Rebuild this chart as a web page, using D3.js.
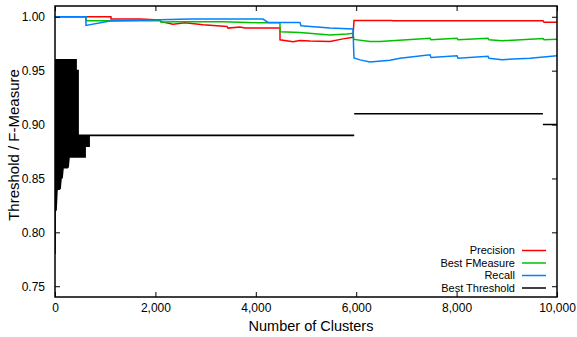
<!DOCTYPE html>
<html><head><meta charset="utf-8">
<script src="https://cdn.jsdelivr.net/npm/d3@7"></script>
<style>
html,body{margin:0;padding:0;background:#fff;}
svg{display:block;font-family:"Liberation Sans",Arial,Helvetica,sans-serif;}
</style></head>
<body><svg id="c" width="577" height="337"></svg>
<script>
// ---- data ----
const xTicks = [0, 2000, 4000, 6000, 8000, 10000];
const yTicks = [0.75, 0.80, 0.85, 0.90, 0.95, 1.00];
const seriesNames = ["Precision", "Best FMeasure", "Recall", "Best Threshold"];

const precClusters = [0,1115,1115,1693,2092,2112,2350,2590,2948,3426,3446,3685,3785,4482,4482,4741,4880,5080,5478,5737,5936,5956,6713,6733,9721,9741,10000];
const precValues   = [1.000,1.000,0.998,0.998,0.997,0.9955,0.993,0.9945,0.9926,0.991,0.9895,0.9905,0.9895,0.9895,0.9787,0.9769,0.978,0.9775,0.977,0.9795,0.981,0.9966,0.9966,0.9962,0.9962,0.995,0.995];

const fClusters = [0,617,617,1096,2092,2112,2350,3347,4024,4482,4482,4880,5478,5817,5936,5956,6275,6474,7470,7490,8008,8028,8626,8646,8904,9721,9741,10000];
const fValues   = [1.000,1.000,0.9963,0.9963,0.9965,0.995,0.9955,0.9955,0.9945,0.9945,0.986,0.9855,0.983,0.984,0.9846,0.979,0.977,0.9771,0.980,0.9787,0.980,0.9787,0.980,0.9787,0.9778,0.9798,0.9787,0.9792];

const recClusters = [0,617,617,1096,2092,2689,4143,4243,4880,4900,5478,5936,5956,6076,6275,6673,6872,7470,7490,8008,8028,8626,8646,8904,9462,10000];
const recValues   = [1.000,1.000,0.992,0.996,0.9972,0.9979,0.9979,0.9947,0.9947,0.9917,0.9895,0.9886,0.9618,0.960,0.958,0.9596,0.9615,0.9648,0.9623,0.9639,0.9615,0.9633,0.9615,0.9602,0.9615,0.9639];

// null marks a break in the threshold line
const thrClusters = [0,0,20,20,40,40,60,60,80,80,100,100,120,120,140,140,160,160,180,180,200,200,220,220,240,240,260,260,280,280,300,300,320,320,340,340,360,360,380,380,400,400,420,420,440,440,460,460,480,480,500,500,520,520,540,540,560,560,580,580,600,600,620,620,640,640,660,660,680,680,5960,null,5960,9720,null,9720,10000];
const thrValues   = [0.78,0.96,0.96,0.82,0.84,0.96,0.96,0.84,0.84,0.96,0.96,0.84,0.85,0.96,0.96,0.85,0.86,0.96,0.96,0.86,0.86,0.96,0.96,0.86,0.86,0.96,0.96,0.86,0.87,0.96,0.96,0.87,0.87,0.96,0.96,0.87,0.87,0.96,0.96,0.87,0.87,0.96,0.96,0.87,0.87,0.95,0.95,0.87,0.87,0.89,0.89,0.87,0.87,0.89,0.89,0.87,0.87,0.89,0.89,0.87,0.87,0.89,0.89,0.88,0.88,0.89,0.89,0.88,0.88,0.89,0.89,null,0.91,0.91,null,0.90,0.90];

const colors = ["#ff0000", "#00c000", "#0080ff", "#000000"];

// ---- chart ----
const L = 55, R = 557, T = 6, B = 297;
const svg = d3.select("#c");
const x = d3.scaleLinear().domain([0, 10000]).range([L, R]);
const y = d3.scaleLinear().domain([0.74, 1.01]).range([B, T]);

const zip = (xs, ys) => xs.map((c, i) => [c, ys[i]]);
const series = [zip(precClusters, precValues), zip(fClusters, fValues), zip(recClusters, recValues), zip(thrClusters, thrValues)];

const line = d3.line()
  .defined(d => d[0] !== null && d[1] !== null)
  .x(d => x(d[0])).y(d => y(d[1]));

svg.append("clipPath").attr("id", "pc").append("rect")
  .attr("x", L).attr("y", T).attr("width", R - L).attr("height", B - T);

const plot = svg.append("g").attr("clip-path", "url(#pc)");
series.forEach((s, i) => {
  plot.append("path").datum(s).attr("d", line)
    .attr("fill", "none").attr("stroke", colors[i])
    .attr("stroke-width", i === 3 ? 1.6 : 1.5)
    .attr("stroke-linejoin", "miter");
});

// axes
const fs = 12;
const ax = svg.append("g").attr("transform", `translate(0,${B})`)
  .call(d3.axisBottom(x).tickValues(xTicks).tickFormat(d3.format(",")).tickSizeInner(-5).tickSizeOuter(0).tickPadding(6));
const axT = svg.append("g").attr("transform", `translate(0,${T})`)
  .call(d3.axisTop(x).tickValues(xTicks).tickFormat("").tickSizeInner(-5).tickSizeOuter(0));
const ay = svg.append("g").attr("transform", `translate(${L},0)`)
  .call(d3.axisLeft(y).tickValues(yTicks).tickFormat(d3.format(".2f")).tickSizeInner(-5).tickSizeOuter(0).tickPadding(10));
const ayR = svg.append("g").attr("transform", `translate(${R},0)`)
  .call(d3.axisRight(y).tickValues(yTicks).tickFormat("").tickSizeInner(-5).tickSizeOuter(0));
[ax, axT, ay, ayR].forEach(g => {
  g.select(".domain").remove();
  g.selectAll(".tick line").attr("stroke", "#000").attr("stroke-width", 1);
  g.selectAll("text").attr("font-size", fs).attr("fill", "#000").attr("font-family", "Liberation Sans, Arial, sans-serif");
});

svg.append("rect").attr("x", L).attr("y", T).attr("width", R - L).attr("height", B - T)
  .attr("fill", "none").attr("stroke", "#000").attr("stroke-width", 1.5);

svg.append("text").attr("x", 311).attr("y", 331).attr("text-anchor", "middle")
  .attr("font-size", 14.5).text("Number of Clusters");
svg.append("text").attr("transform", `translate(19,145) rotate(-90)`)
  .attr("text-anchor", "middle").attr("font-size", 15).text("Threshold / F-Measure");

// legend
const legY = [250.5, 263, 275.5, 288];
const leg = svg.append("g");
seriesNames.forEach((n, i) => {
  leg.append("text").attr("x", 515).attr("y", legY[i]).attr("dy", "0.35em")
    .attr("text-anchor", "end").attr("font-size", 11).text(n);
  leg.append("line").attr("x1", 522).attr("x2", 546).attr("y1", legY[i]).attr("y2", legY[i])
    .attr("stroke", colors[i]).attr("stroke-width", 1.5);
});
</script></body></html>
